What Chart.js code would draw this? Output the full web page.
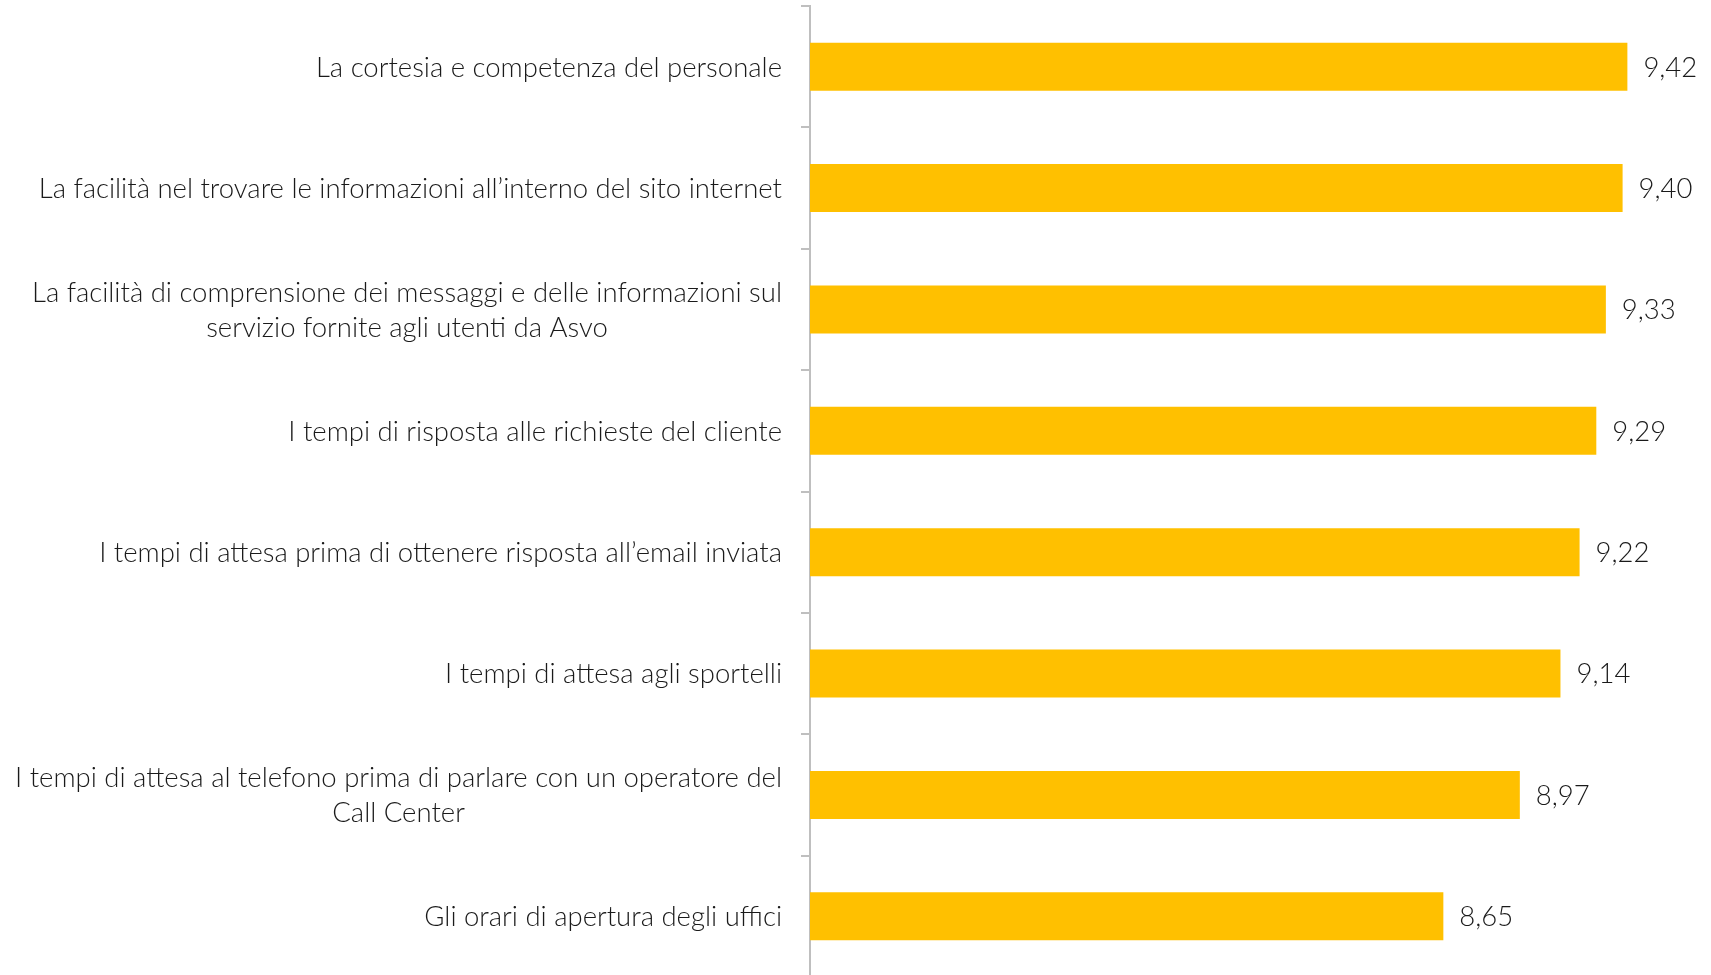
<!DOCTYPE html>
<html lang="it">
<head>
<meta charset="UTF-8">
<title>Soddisfazione servizi</title>
<script src="https://cdn.jsdelivr.net/npm/chart.js@4.4.0/dist/chart.umd.min.js"></script>
<style>
  html, body { margin: 0; padding: 0; background: #fff; overflow: hidden; }
  #wrap { position: relative; width: 1770px; height: 978px; }
</style>
</head>
<body>
<div id="wrap"><canvas id="chart" width="1770" height="978"></canvas></div>
<script>
// categorie (una riga per elemento dell'array interno)
const categories = [
  ['La cortesia e competenza del personale'],
  ['La facilità nel trovare le informazioni all\u2019interno del sito internet'],
  ['La facilità di comprensione dei messaggi e delle informazioni sul', 'servizio fornite agli utenti da Asvo'],
  ['I tempi di risposta alle richieste del cliente'],
  ['I tempi di attesa prima di ottenere risposta all\u2019email inviata'],
  ['I tempi di attesa agli sportelli'],
  ['I tempi di attesa al telefono prima di parlare con un operatore del', 'Call Center'],
  ['Gli orari di apertura degli uffici']
];
const values = [9.42, 9.40, 9.33, 9.29, 9.22, 9.14, 8.97, 8.65];
const axisMin = 6;
const axisMax = 10;

const barColor = '#FFC000';
const axisColor = '#bfbfbf';
const textColor = '#1a1a1a';
const fontSpec = '300 27.5px Lato';
const lineHeight = 35;

// etichette categorie (righe centrate) e valori a fianco delle barre
const labelPlugin = {
  id: 'labelPlugin',
  afterDraw(chart) {
    const ctx = chart.ctx;
    const yScale = chart.scales.y;
    const meta = chart.getDatasetMeta(0);
    const right = chart.chartArea.left - 28;
    ctx.save();
    ctx.font = fontSpec;
    ctx.fillStyle = textColor;
    ctx.textBaseline = 'middle';
    ctx.textAlign = 'center';
    categories.forEach((lines, i) => {
      const cy = yScale.getPixelForValue(i) + 1;
      const block = Math.max(...lines.map(l => ctx.measureText(l).width));
      const cx = right - block / 2;
      lines.forEach((l, j) => {
        ctx.fillText(l, cx, cy + (j - (lines.length - 1) / 2) * lineHeight);
      });
    });
    ctx.textAlign = 'left';
    meta.data.forEach((bar, i) => {
      ctx.fillText(values[i].toFixed(2).replace('.', ','), bar.x + 16, bar.y + 1);
    });
    ctx.restore();
  }
};

new Chart(document.getElementById('chart'), {
  type: 'bar',
  data: {
    labels: categories,
    datasets: [{
      data: values,
      backgroundColor: barColor,
      borderWidth: 0,
      categoryPercentage: 1,
      barPercentage: 0.395
    }]
  },
  options: {
    indexAxis: 'y',
    responsive: false,
    animation: false,
    devicePixelRatio: 1,
    layout: { padding: { left: 801, top: 6, right: 4, bottom: 1 } },
    plugins: {
      legend: { display: false },
      tooltip: { enabled: false }
    },
    scales: {
      x: {
        display: false,
        min: axisMin,
        max: axisMax
      },
      y: {
        offset: true,
        ticks: { display: false },
        grid: {
          offset: true,
          drawOnChartArea: false,
          drawTicks: true,
          tickLength: 9,
          color: axisColor,
          lineWidth: 2
        },
        border: { display: true, color: axisColor, width: 2 }
      }
    }
  },
  plugins: [labelPlugin]
});
</script>
</body>
</html>
